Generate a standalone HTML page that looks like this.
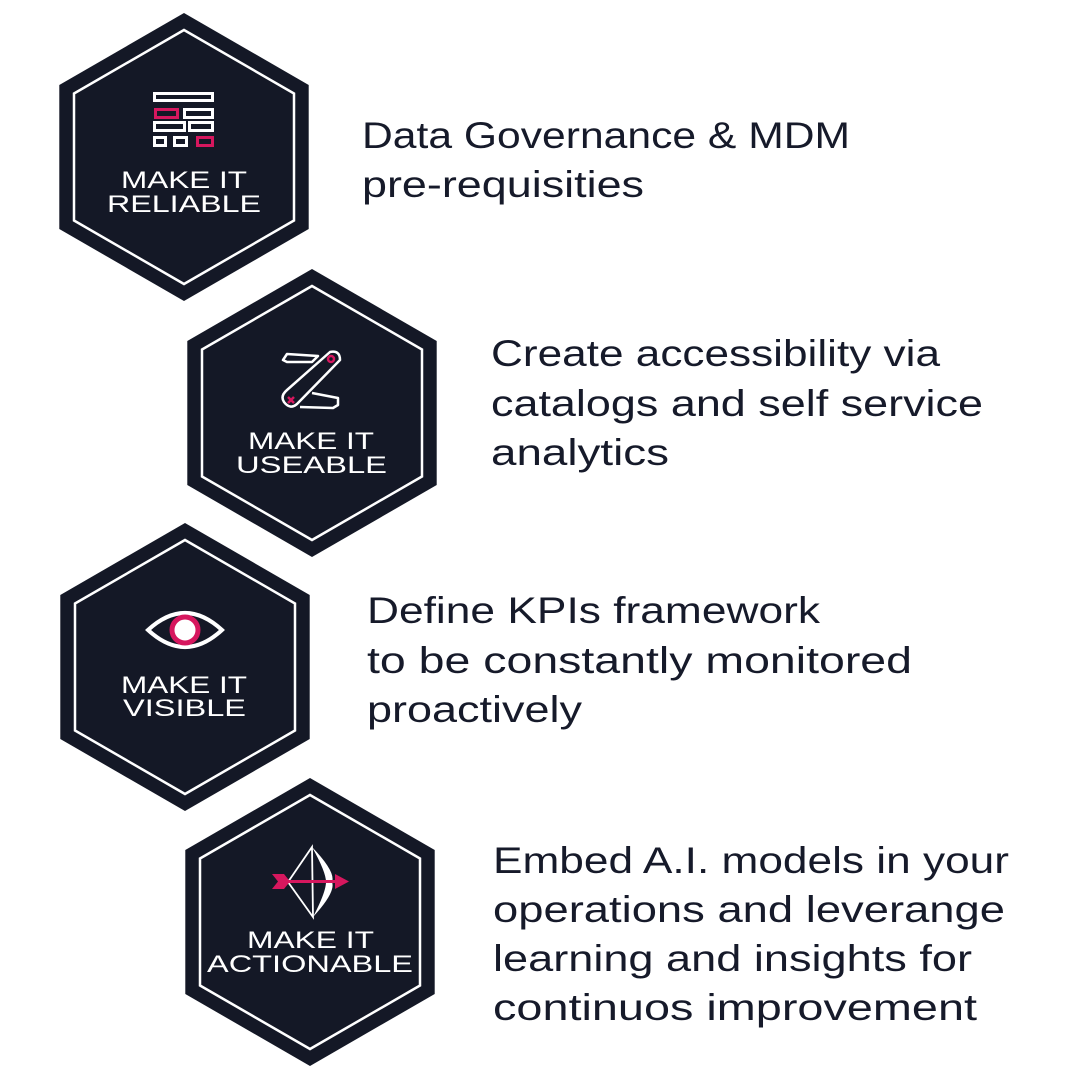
<!DOCTYPE html>
<html><head><meta charset="utf-8"><style>
html,body{margin:0;padding:0;background:#fff;width:1080px;height:1080px;overflow:hidden}
svg{display:block}
.t{font-family:"Liberation Sans",sans-serif;font-size:37px;fill:#161a2a}
.l{font-family:"Liberation Sans",sans-serif;font-size:24px;fill:#fff;font-weight:normal}
</style></head><body>
<svg width="1080" height="1080" viewBox="0 0 1080 1080" xmlns="http://www.w3.org/2000/svg">
<defs>
<g id="hex">
<polygon points="0,-144 124.7,-72 124.7,72 0,144 -124.7,72 -124.7,-72" fill="#141826"/>
<polygon points="0,-127 110,-63.5 110,63.5 0,127 -110,63.5 -110,-63.5" fill="none" stroke="#fff" stroke-width="2.5"/>
</g>
</defs>
<use href="#hex" x="184" y="157"/>
<use href="#hex" x="312" y="413"/>
<use href="#hex" x="185" y="667"/>
<use href="#hex" x="310" y="922"/>

<!-- icon 1 -->
<g fill="none" stroke-width="3">
<rect x="154.5" y="93.5" width="58" height="7" stroke="#fff"/>
<rect x="155.5" y="109.5" width="22" height="8" stroke="#d6175e"/>
<rect x="184.5" y="109.5" width="28" height="8" stroke="#fff"/>
<rect x="154.5" y="122.5" width="30" height="8" stroke="#fff"/>
<rect x="189.5" y="122.5" width="23" height="8" stroke="#fff"/>
<rect x="154.5" y="137.5" width="11" height="8" stroke="#fff"/>
<rect x="174.5" y="137.5" width="12" height="8" stroke="#fff"/>
<rect x="197.5" y="137.5" width="15" height="8" stroke="#d6175e"/>
</g>

<!-- icon 2 knife -->
<g fill="none" stroke="#fff" stroke-width="2.5" stroke-linejoin="round">
<path d="M283,360 L287,354 L318,356 L312,362 L287,362 Z"/>
<path d="M330,352 Q340,350 340,360 L297,404 Q290,410 284,402 Q280,396 287,390 Z"/>
<path d="M312,393 L338,398 L338,405 L333,408 L300,407"/>
</g>
<circle cx="331" cy="359" r="3" fill="none" stroke="#d6175e" stroke-width="2.5"/>
<path d="M288,397 l6,6 M294,397 l-6,6" stroke="#d6175e" stroke-width="2.5"/>

<!-- icon 3 eye -->
<path d="M148,630 Q185,596 222,630 Q185,664 148,630 Z" fill="none" stroke="#fff" stroke-width="4"/>
<circle cx="185" cy="630" r="13" fill="#fff" stroke="#d6175e" stroke-width="5"/>

<!-- icon 4 bow -->
<path d="M288,882 L312,847 L313,917 Z" fill="none" stroke="#fff" stroke-width="1.8"/>
<path d="M312,847 Q336,872 332,882 Q336,892 313,917 Q326,892 326,882 Q326,872 312,847 Z" fill="#fff"/>
<line x1="282" y1="881.5" x2="336" y2="881.5" stroke="#d6175e" stroke-width="3"/>
<path d="M335,874 L349,881.5 L335,889 Z" fill="#d6175e"/>
<path d="M272,874 L284,874 L290,881.5 L284,889 L272,889 L278,881.5 Z" fill="#d6175e"/>

<!-- labels -->
<text class="l" x="121" y="188" textLength="126" lengthAdjust="spacingAndGlyphs">MAKE IT</text>
<text class="l" x="107" y="212" textLength="154" lengthAdjust="spacingAndGlyphs">RELIABLE</text>
<text class="l" x="248" y="449" textLength="126" lengthAdjust="spacingAndGlyphs">MAKE IT</text>
<text class="l" x="236" y="473" textLength="151" lengthAdjust="spacingAndGlyphs">USEABLE</text>
<text class="l" x="121" y="693" textLength="126" lengthAdjust="spacingAndGlyphs">MAKE IT</text>
<text class="l" x="123" y="716" textLength="123" lengthAdjust="spacingAndGlyphs">VISIBLE</text>
<text class="l" x="247" y="948" textLength="127" lengthAdjust="spacingAndGlyphs">MAKE IT</text>
<text class="l" x="207" y="972" textLength="206" lengthAdjust="spacingAndGlyphs">ACTIONABLE</text>

<!-- descriptions -->
<text class="t" x="362" y="148" textLength="488" lengthAdjust="spacingAndGlyphs">Data Governance &amp; MDM</text>
<text class="t" x="362" y="197" textLength="282" lengthAdjust="spacingAndGlyphs">pre-requisities</text>
<text class="t" x="491" y="366" textLength="449" lengthAdjust="spacingAndGlyphs">Create accessibility via</text>
<text class="t" x="491" y="416" textLength="492" lengthAdjust="spacingAndGlyphs">catalogs and self service</text>
<text class="t" x="491" y="465" textLength="178" lengthAdjust="spacingAndGlyphs">analytics</text>
<text class="t" x="367" y="623" textLength="453" lengthAdjust="spacingAndGlyphs">Define KPIs framework</text>
<text class="t" x="367" y="673" textLength="545" lengthAdjust="spacingAndGlyphs">to be constantly monitored</text>
<text class="t" x="367" y="722" textLength="215" lengthAdjust="spacingAndGlyphs">proactively</text>
<text class="t" x="493" y="873" textLength="516" lengthAdjust="spacingAndGlyphs">Embed A.I. models in your</text>
<text class="t" x="493" y="922" textLength="512" lengthAdjust="spacingAndGlyphs">operations and leverange</text>
<text class="t" x="493" y="971" textLength="479" lengthAdjust="spacingAndGlyphs">learning and insights for</text>
<text class="t" x="493" y="1020" textLength="484" lengthAdjust="spacingAndGlyphs">continuos improvement</text>
</svg>
</body></html>
